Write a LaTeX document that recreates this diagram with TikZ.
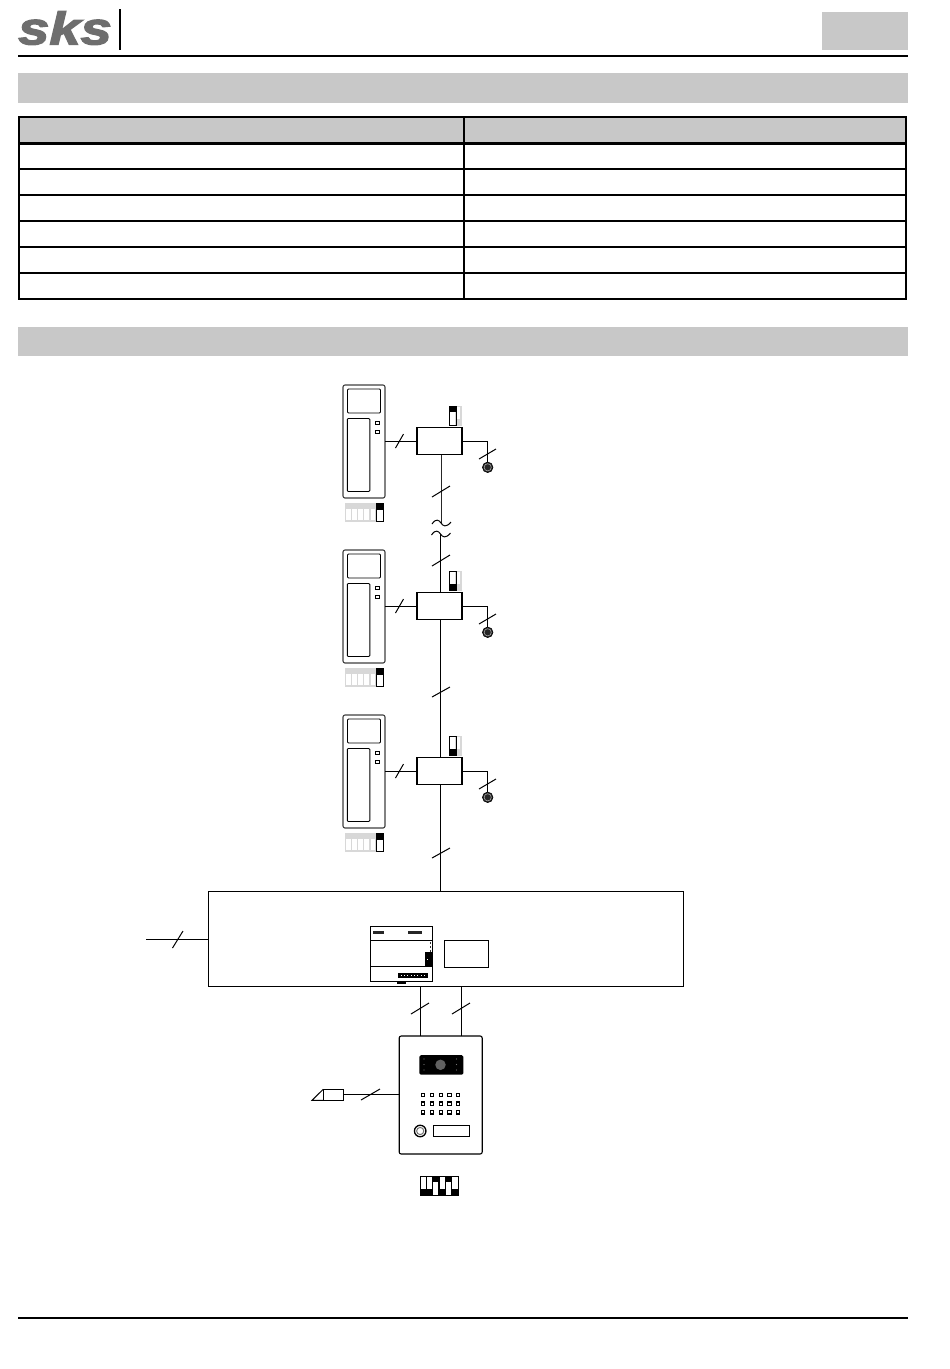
\documentclass[tikz,border=0pt]{standalone}
\usepackage{fontspec}
\setmainfont{Liberation Sans}
\newfontfamily\logofont[FakeBold=2.5]{Liberation Sans Bold Italic}
\usetikzlibrary{calc}
\definecolor{band}{HTML}{C8C8C8}
\definecolor{pale}{HTML}{D8D8D8}
\definecolor{logogray}{HTML}{6E6E6E}
\tikzset{
  wire/.style={line width=1pt,draw=black},
  boxn/.style={draw=black,line width=1.1pt,fill=white,inner sep=0pt,outer sep=0pt},
  rule/.style={line width=2pt,draw=black},
  grid/.style={line width=2pt,draw=black},
  slash/.style={line width=1pt,draw=black},
  paleline/.style={draw=pale,line width=1.2pt},
}
\begin{document}
\begin{tikzpicture}[x=1pt,y=-1pt]
\useasboundingbox (0,0) rectangle (950,1369);
% header
\node[anchor=center,text=logogray,inner sep=0pt,xscale=1.22] (logo) at (65,28) {\fontsize{46}{46}\selectfont\logofont sks};
\draw[line width=1.6pt] (120,9) -- (120,50);
\draw[rule] (18,56) -- (908,56);
\fill[band] (822,12) rectangle (908,50);
\fill[band] (18,73) rectangle (908,102.5);
\fill[band] (18,327) rectangle (908,356);
\draw[rule] (18,1318) -- (908,1318);
% table
\fill[band] (19,117) rectangle (906,143);
\draw[grid,line width=2.4pt] (19,117) rectangle (906,299);
\draw[grid,line width=3pt] (19,143) -- (906,143);
\foreach \yy in {169,195,221,247,273} \draw[grid] (19,\yy) -- (906,\yy);
\draw[grid] (464,117) -- (464,299);
% units
\foreach \i/\dy/\tp in {1/0/1,2/165/0,3/330/0}{
  \begin{scope}[yshift=-\dy pt]
    \node[boxn,rounded corners=2pt,draw=black!75,minimum width=42pt,minimum height=113pt,anchor=north west] (mon\i) at (343,385) {};
    \node[boxn,rounded corners=1pt,line width=.9pt,minimum width=33pt,minimum height=24pt,anchor=north west] (scr\i) at (347.5,389) {};
    \node[boxn,rounded corners=1pt,line width=.9pt,minimum width=22.5pt,minimum height=73pt,anchor=north west] (hand\i) at (347.3,418.5) {};
    \node[boxn,line width=.7pt,minimum width=3.6pt,minimum height=3.6pt] (ba\i) at (377.2,423) {};
    \node[boxn,line width=.7pt,minimum width=3.6pt,minimum height=3.6pt] (bb\i) at (377.2,432) {};
    \node[boxn,minimum width=45pt,minimum height=27pt,anchor=north west] (box\i) at (417,427.9) {};
    \draw[wire] (box\i.west) -- (box\i.west -| mon\i.east);
    \draw[slash] (395.5,448) -- (403.5,434);
    % switch above box
    \fill[pale] (456.5,419) rectangle (461,425);
    \draw[paleline] (456,406.5) rectangle (461,425);
    \ifnum\tp=1 \fill[black] (449,406) rectangle (456,412); \else \fill[black] (449,419) rectangle (456,425); \fi
    \node[draw=black,line width=1pt,minimum width=6.6pt,minimum height=18.6pt,inner sep=0,anchor=north west] (sw\i) at (449.2,406.2) {};
    % lamp
    \node[circle,fill=black!85,draw=black,line width=.6pt,minimum size=10.5pt,inner sep=0] (lamp\i) at (487.7,467.3) {};
    \draw[draw=black!30,line width=.5pt] (lamp\i) circle (3.6pt);
    \draw[wire] (box\i.east) -| (lamp\i.north);
    \draw[slash] (479,459) -- (496,449);
    % dips
    \foreach \c in {0,1,2,3,4}{
      \draw[paleline] ({345.5+\c*6.1},503.5) rectangle ({351.6+\c*6.1},521);
      \fill[pale] ({345.5+\c*6.1},504) rectangle ({351.6+\c*6.1},509);
    }
    \fill[black] (376,503) rectangle (383,510);
    \node[draw=black,line width=1pt,minimum width=6.4pt,minimum height=17.6pt,inner sep=0,anchor=north west] (dip\i) at (376.3,503.3) {};
  \end{scope}
}
% bus
\coordinate (tila) at (441,523);
\coordinate (tilb) at (440.5,534);
\draw[wire,draw=black!85] (tila |- box1.south) -- (tila);
\draw[wire] (tilb) -- (tilb |- box2.north);
\foreach \t in {tila,tilb}
  \draw[line width=1pt] ($(\t)+(-9,1)$) .. controls ($(\t)+(-5,-5)$) and ($(\t)+(-2,-3)$) .. ($(\t)+(0,0)$) .. controls ($(\t)+(2,3)$) and ($(\t)+(5,5)$) .. ($(\t)+(10,-1)$);
\draw[slash] (432,497) -- (450,486);
\draw[slash] (432,566) -- (450,555);
\coordinate (busx) at (440.5,700);
\draw[wire] (busx |- box2.south) -- (busx |- box3.north);
\draw[slash] (432,697) -- (450,687);
% main box
\node[boxn,minimum width=475.5pt,minimum height=95.5pt,anchor=north west] (main) at (208.2,891.2) {};
\draw[wire] (busx |- box3.south) -- (busx |- main.north);
\draw[slash] (432,858) -- (450,848);
\coordinate (feed) at (146,939.5);
\draw[wire] (feed) -- (feed -| main.west);
\draw[slash] (172.5,948) -- (183,931);
% power device
\node[boxn,minimum width=62.5pt,minimum height=55pt,anchor=north west] (psu) at (370.2,926.2) {};
\draw[line width=1pt] (psu.west |- 0,940) -- (psu.east |- 0,940);
\draw[line width=1pt] (psu.west |- 0,966) -- (psu.east |- 0,966);
\fill[black!85] (373,931) rectangle (384,933.5);
\fill[black!85] (408,931) rectangle (422,933.5);
\fill[black] (425,952) rectangle (432.5,966);
\fill[white] (427,958.6) rectangle (428,959.6);
\foreach \yy in {942.5,946.5,950.5} \fill[black!80] (429.5,\yy-1) rectangle (431,\yy+1);
\fill[black] (398,973) rectangle (428,977.5);
\foreach \xx in {401,404,407,411,414,417,421,424} \fill[white] (\xx,974.5) rectangle (\xx+1,976);
\fill[black] (397,981.5) rectangle (406,983.5);
\node[boxn,minimum width=44.5pt,minimum height=27.5pt,anchor=north west] (aux) at (444.2,940.2) {};
% door station
\node[boxn,rounded corners=2pt,minimum width=83pt,minimum height=118pt,anchor=north west] (door) at (399.2,1036) {};
\coordinate (da) at (420.5,1036);
\coordinate (db) at (461.5,1036);
\draw[wire] (da) -- (da |- main.south);
\draw[wire] (db) -- (db |- main.south);
\draw[slash] (411,1014) -- (429,1003);
\draw[slash] (452,1014) -- (470,1003);
\node[fill=black,rounded corners=1.5pt,minimum width=44pt,minimum height=19.5pt,inner sep=0,anchor=north west] (cam) at (419.2,1055) {};
\node[circle,fill=black!62,minimum size=10.5pt,inner sep=0] (lens) at (440.5,1064.8) {};
\foreach \yy in {1059,1064.5,1070} {
  \fill[black!55] (424,\yy) circle (.7pt);
  \fill[black!55] (456.5,\yy) circle (.7pt);
}
\foreach \xx in {423,432,441,449.5,458}
  \foreach \yy in {1095,1103.7,1112.3}
    \draw[line width=1.1pt] (\xx-1.7,\yy-1.7) rectangle (\xx+1.7,\yy+1.7);
\node[circle,draw=black,line width=1.3pt,fill=white,minimum size=11.5pt,inner sep=0] (spk) at (420.2,1131) {};
\draw[draw=black!55,line width=1pt] (spk) circle (3.6pt);
\node[draw=black,line width=.9pt,minimum width=35.5pt,minimum height=11pt,inner sep=0,anchor=north west] (tag) at (433.2,1125.3) {};
% lock
\node[boxn,minimum width=20.5pt,minimum height=11pt,anchor=north west] (lock) at (323.2,1089.3) {};
\draw[line width=1pt] (lock.north west) -- (312,1100.3) -- (lock.south west);
\draw[wire] (lock.east) -- (lock.east -| door.west);
\draw[slash] (361,1100) -- (380,1089);
% code switches
\fill[black] (420.2,1189) rectangle (432.6,1195);
\fill[black] (432.6,1176) rectangle (438.8,1181.5);
\fill[black] (438.8,1189) rectangle (445.2,1195);
\fill[black] (445.2,1176) rectangle (451.6,1181.5);
\fill[black] (451.6,1189) rectangle (458,1195);
\foreach \xx in {420.2,426.4,432.6,438.8,445.2,451.6}
  \draw[line width=.8pt] (\xx,1176.4) rectangle (\xx+6.3,1195);
\end{tikzpicture}
\end{document}
